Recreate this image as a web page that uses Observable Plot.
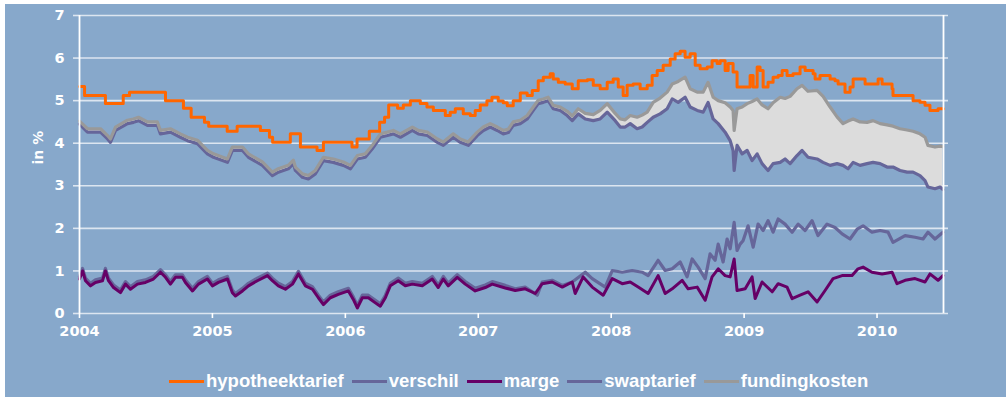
<!DOCTYPE html>
<html><head><meta charset="utf-8">
<script src="https://cdn.jsdelivr.net/npm/d3@7"></script>
<script src="https://cdn.jsdelivr.net/npm/@observablehq/plot@0.6"></script>
<style>
html,body{margin:0;padding:0;background:#fff;width:1006px;height:401px;overflow:hidden;}
#panel{position:absolute;left:5px;top:4px;width:1001px;height:393px;background:#87A8CB;}
#chart{position:absolute;left:0;top:0;}
#legend{position:absolute;top:370px;left:169px;display:flex;align-items:center;font-family:"Liberation Sans",Arial,sans-serif;font-weight:bold;font-size:18.5px;color:#fff;white-space:nowrap;}
.item{display:flex;align-items:center;margin-right:8px;}
.sw{width:35px;height:3px;margin-right:2px;}
</style></head>
<body>
<div id="panel"></div>
<div id="chart"></div>
<div id="legend"></div>
<script>
// ---------- data (decimal years, values in %) ----------
const seriesNames = ["hypotheektarief","verschil","marge","swaptarief","fundingkosten"];
const seriesColors = ["#FF6600","#66669A","#660066","#66669A","#999999"];
const xTicks = [2004,2005,2006,2007,2008,2009,2010];
const yTicks = [0,1,2,3,4,5,6,7];

const hypYears = [2004.000,2004.038,2004.195,2004.329,2004.376,2004.647,2004.782,2004.840,2004.940,2004.972,
 2005.111,2005.186,2005.361,2005.429,2005.453,2005.586,2005.662,2005.787,2005.835,2006.050,
 2006.088,2006.180,2006.258,2006.295,2006.326,2006.393,2006.436,2006.489,2006.564,2006.614,
 2006.662,2006.752,2006.789,2006.827,2006.887,2006.940,2006.977,2007.015,2007.065,2007.103,
 2007.150,2007.188,2007.218,2007.263,2007.316,2007.368,2007.406,2007.451,2007.489,2007.541,
 2007.564,2007.602,2007.654,2007.707,2007.752,2007.820,2007.865,2007.917,2007.970,2008.015,
 2008.053,2008.090,2008.120,2008.165,2008.218,2008.271,2008.308,2008.346,2008.391,2008.444,
 2008.481,2008.519,2008.556,2008.594,2008.632,2008.669,2008.722,2008.759,2008.797,2008.820,
 2008.857,2008.880,2008.917,2008.947,2009.045,2009.068,2009.098,2009.120,2009.143,2009.180,
 2009.218,2009.256,2009.286,2009.323,2009.368,2009.421,2009.459,2009.519,2009.534,2009.571,
 2009.647,2009.684,2009.707,2009.759,2009.797,2009.820,2009.910,2010.008,2010.038,2010.113,
 2010.120,2010.271,2010.323,2010.361,2010.398,2010.459,2010.500];
const hypotheektarief = [5.33,5.12,4.93,5.12,5.20,5.00,4.82,4.61,4.49,4.40,
 4.28,4.40,4.30,4.14,4.02,4.22,3.91,3.83,4.02,3.91,
 4.10,4.28,4.49,4.61,4.90,4.82,4.90,5.00,4.93,4.85,
 4.77,4.65,4.73,4.81,4.69,4.65,4.77,4.90,5.00,5.08,
 4.99,4.95,4.88,5.00,5.18,5.12,5.24,5.47,5.55,5.63,
 5.51,5.43,5.39,5.28,5.47,5.49,5.36,5.28,5.43,5.51,
 5.32,5.12,5.36,5.39,5.28,5.36,5.59,5.71,5.83,5.98,
 6.10,6.16,6.02,6.10,5.83,5.75,5.79,5.94,5.87,5.94,
 5.71,5.87,5.67,5.32,5.59,5.32,5.79,5.71,5.32,5.43,
 5.55,5.59,5.71,5.59,5.63,5.79,5.71,5.63,5.51,5.59,
 5.51,5.47,5.39,5.20,5.32,5.51,5.39,5.51,5.39,5.28,
 5.12,5.00,4.96,4.89,4.77,4.81,4.81];

const rateYears = [2004.000,2004.060,2004.158,2004.211,2004.233,2004.271,2004.361,2004.406,2004.444,2004.511,
 2004.586,2004.609,2004.684,2004.759,2004.812,2004.887,2004.962,2005.008,2005.113,2005.150,
 2005.226,2005.271,2005.376,2005.451,2005.496,2005.571,2005.609,2005.624,2005.677,2005.722,
 2005.774,2005.835,2005.910,2005.985,2006.038,2006.090,2006.150,2006.203,2006.263,2006.316,
 2006.361,2006.414,2006.504,2006.549,2006.617,2006.692,2006.737,2006.812,2006.865,2006.925,
 2006.992,2007.038,2007.090,2007.143,2007.188,2007.226,2007.263,2007.316,2007.368,2007.414,
 2007.451,2007.489,2007.526,2007.564,2007.617,2007.669,2007.707,2007.752,2007.805,2007.865,
 2007.917,2007.970,2008.030,2008.068,2008.105,2008.143,2008.195,2008.233,2008.271,2008.316,
 2008.368,2008.421,2008.459,2008.504,2008.556,2008.594,2008.647,2008.692,2008.729,2008.767,
 2008.805,2008.857,2008.895,2008.917,2008.925,2008.947,2008.985,2009.023,2009.060,2009.098,
 2009.135,2009.180,2009.218,2009.271,2009.308,2009.346,2009.398,2009.436,2009.481,2009.549,
 2009.594,2009.647,2009.699,2009.744,2009.782,2009.820,2009.872,2009.925,2009.970,2010.023,
 2010.075,2010.120,2010.173,2010.226,2010.271,2010.323,2010.361,2010.383,2010.436,2010.474,
 2010.496];
const swaptarief = [4.45,4.26,4.26,4.10,4.02,4.30,4.46,4.49,4.53,4.42,
 4.42,4.22,4.26,4.14,4.06,3.99,3.75,3.67,3.55,3.83,
 3.83,3.67,3.48,3.24,3.32,3.40,3.52,3.36,3.20,3.16,
 3.28,3.59,3.55,3.48,3.40,3.63,3.67,3.87,4.14,4.18,
 4.22,4.14,4.30,4.22,4.18,4.02,3.95,4.14,4.02,3.95,
 4.18,4.30,4.38,4.30,4.22,4.25,4.42,4.46,4.57,4.77,
 4.93,4.96,5.00,4.81,4.77,4.65,4.53,4.69,4.57,4.53,
 4.57,4.73,4.53,4.38,4.38,4.46,4.34,4.38,4.49,4.61,
 4.69,4.81,5.04,4.96,5.08,4.85,4.77,4.73,4.96,4.57,
 4.46,4.26,4.06,3.83,3.36,3.95,3.75,3.83,3.59,3.75,
 3.52,3.36,3.52,3.55,3.63,3.52,3.71,3.83,3.67,3.63,
 3.55,3.48,3.52,3.48,3.40,3.55,3.48,3.52,3.55,3.52,
 3.44,3.44,3.36,3.32,3.32,3.24,3.12,2.97,2.93,2.97,
 2.91];
const fundingkosten = [4.52,4.34,4.34,4.18,4.10,4.38,4.54,4.57,4.61,4.50,
 4.50,4.30,4.34,4.22,4.14,4.07,3.83,3.75,3.63,3.91,
 3.91,3.75,3.56,3.32,3.40,3.48,3.60,3.44,3.28,3.24,
 3.36,3.67,3.63,3.56,3.48,3.71,3.75,3.95,4.22,4.26,
 4.30,4.22,4.38,4.30,4.26,4.10,4.03,4.22,4.10,4.03,
 4.26,4.38,4.46,4.38,4.30,4.33,4.50,4.54,4.65,4.85,
 5.01,5.04,5.08,4.89,4.85,4.75,4.64,4.81,4.70,4.67,
 4.77,4.93,4.70,4.57,4.55,4.65,4.61,4.66,4.73,4.96,
 5.06,5.20,5.39,5.45,5.55,5.28,5.20,5.20,5.43,5.08,
 5.00,4.95,4.85,4.77,4.30,4.81,4.85,4.93,4.98,5.04,
 4.90,4.81,4.95,5.08,5.05,5.10,5.28,5.36,5.22,5.24,
 5.10,4.85,4.62,4.46,4.52,4.57,4.50,4.49,4.53,4.46,
 4.43,4.40,4.34,4.31,4.28,4.22,4.14,3.95,3.91,3.93,
 3.92];

const margeYears = [2004.000,2004.023,2004.045,2004.083,2004.120,2004.173,2004.195,2004.218,2004.256,2004.308,
 2004.346,2004.383,2004.436,2004.496,2004.556,2004.609,2004.647,2004.684,2004.722,2004.774,
 2004.797,2004.850,2004.895,2004.962,2005.000,2005.045,2005.113,2005.150,2005.173,2005.226,
 2005.271,2005.338,2005.414,2005.451,2005.496,2005.549,2005.602,2005.647,2005.699,2005.752,
 2005.797,2005.835,2005.887,2005.947,2006.023,2006.060,2006.090,2006.128,2006.173,2006.226,
 2006.263,2006.301,2006.338,2006.398,2006.451,2006.504,2006.579,2006.654,2006.699,2006.737,
 2006.774,2006.842,2006.902,2006.977,2007.053,2007.105,2007.203,2007.278,2007.353,2007.429,
 2007.481,2007.556,2007.632,2007.707,2007.729,2007.789,2007.857,2007.940,2008.008,2008.083,
 2008.143,2008.203,2008.278,2008.353,2008.406,2008.459,2008.534,2008.579,2008.647,2008.707,
 2008.759,2008.805,2008.857,2008.895,2008.925,2008.947,2009.008,2009.060,2009.083,2009.135,
 2009.211,2009.256,2009.323,2009.361,2009.421,2009.481,2009.549,2009.609,2009.669,2009.737,
 2009.812,2009.857,2009.895,2009.962,2010.038,2010.113,2010.150,2010.211,2010.286,2010.361,
 2010.398,2010.459,2010.496];
const marge = [0.81,1.00,0.77,0.65,0.73,0.77,1.00,0.77,0.61,0.49,
 0.69,0.57,0.69,0.73,0.81,0.97,0.85,0.69,0.85,0.85,
 0.73,0.53,0.69,0.81,0.65,0.73,0.81,0.49,0.41,0.53,
 0.65,0.77,0.89,0.77,0.65,0.57,0.69,0.93,0.65,0.57,
 0.37,0.21,0.37,0.45,0.53,0.33,0.13,0.37,0.37,0.25,
 0.17,0.37,0.65,0.77,0.65,0.69,0.65,0.81,0.61,0.81,
 0.65,0.85,0.69,0.53,0.61,0.69,0.60,0.54,0.58,0.47,
 0.70,0.74,0.62,0.74,0.47,0.86,0.62,0.43,0.82,0.70,
 0.74,0.62,0.47,0.89,0.47,0.58,0.78,0.58,0.62,0.31,
 0.86,1.05,0.89,0.86,1.28,0.54,0.58,0.86,0.35,0.74,
 0.51,0.70,0.62,0.35,0.43,0.51,0.27,0.54,0.82,0.89,
 0.89,1.05,1.09,0.97,0.93,0.97,0.70,0.78,0.82,0.74,
 0.93,0.78,0.89];

const verschilYears = [2004.000,2004.023,2004.045,2004.083,2004.120,2004.173,2004.195,2004.218,2004.256,2004.308,
 2004.346,2004.383,2004.436,2004.496,2004.556,2004.609,2004.647,2004.684,2004.722,2004.774,
 2004.797,2004.850,2004.895,2004.962,2005.000,2005.045,2005.113,2005.150,2005.173,2005.226,
 2005.271,2005.338,2005.414,2005.451,2005.496,2005.549,2005.602,2005.647,2005.699,2005.752,
 2005.797,2005.835,2005.887,2005.947,2006.023,2006.060,2006.090,2006.128,2006.173,2006.226,
 2006.263,2006.301,2006.338,2006.398,2006.451,2006.504,2006.579,2006.654,2006.699,2006.737,
 2006.774,2006.842,2006.902,2006.977,2007.053,2007.105,2007.203,2007.278,2007.353,2007.444,
 2007.481,2007.556,2007.632,2007.707,2007.805,2007.857,2007.955,2008.008,2008.083,2008.158,
 2008.233,2008.278,2008.353,2008.406,2008.459,2008.519,2008.571,2008.609,2008.654,2008.707,
 2008.744,2008.782,2008.805,2008.842,2008.872,2008.895,2008.925,2008.947,2008.970,2008.992,
 2009.030,2009.068,2009.105,2009.143,2009.180,2009.218,2009.256,2009.308,2009.361,2009.406,
 2009.459,2009.511,2009.556,2009.624,2009.684,2009.737,2009.797,2009.850,2009.895,2009.962,
 2010.023,2010.083,2010.120,2010.211,2010.286,2010.346,2010.383,2010.436,2010.496];
const verschil = [0.87,1.06,0.83,0.71,0.79,0.83,1.06,0.83,0.67,0.55,
 0.75,0.63,0.75,0.79,0.87,1.03,0.91,0.75,0.91,0.91,
 0.79,0.59,0.75,0.87,0.71,0.79,0.87,0.55,0.47,0.59,
 0.71,0.83,0.95,0.83,0.71,0.63,0.75,0.99,0.71,0.63,
 0.43,0.27,0.43,0.51,0.59,0.39,0.19,0.43,0.43,0.31,
 0.23,0.43,0.71,0.83,0.71,0.75,0.71,0.87,0.67,0.87,
 0.71,0.91,0.75,0.59,0.67,0.75,0.66,0.58,0.62,0.43,
 0.74,0.78,0.66,0.74,0.97,0.82,0.62,1.01,0.97,1.01,
 0.97,0.89,1.25,1.01,1.05,1.21,0.86,1.28,1.09,0.82,
 1.40,1.25,1.63,1.21,1.75,1.52,2.14,1.48,1.63,1.71,
 2.06,1.56,2.10,1.95,2.18,1.91,2.22,2.10,1.91,2.10,
 1.95,2.18,1.83,2.10,2.02,1.87,1.75,1.98,2.06,1.91,
 1.95,1.91,1.67,1.83,1.79,1.75,1.91,1.75,1.91];

// ---------- tables built from the arrays ----------
const hyp = hypYears.map((x,i)=>({x, y: hypotheektarief[i]}));
const rates = rateYears.map((x,i)=>({x, swap: swaptarief[i], fund: fundingkosten[i]}));
const mrg = margeYears.map((x,i)=>({x, y: marge[i]}));
const vrs = verschilYears.map((x,i)=>({x, y: verschil[i]}));

const grid = "#DCE5F0";
const chart = Plot.plot({
  width: 1006, height: 350,
  marginLeft: 79, marginRight: 58, marginTop: 15, marginBottom: 37,
  style: {background: "transparent", color: "#fff", fontFamily: "DejaVu Sans, sans-serif", fontSize: "14.5px", fontWeight: "bold", overflow: "visible"},
  x: {domain: [2004, 2010.5376]},
  y: {domain: [0, 7]},
  marks: [
    Plot.ruleY(yTicks, {stroke: grid, strokeWidth: 1.6}),
    Plot.axisY({ticks: yTicks, tickSize: 6, tickPadding: 9, stroke: grid, strokeWidth: 1.6, label: null, tickFormat: d => String(d)}),
    Plot.axisX({ticks: xTicks, tickSize: 5, tickPadding: 7, stroke: "#fff", strokeWidth: 1.6, label: null, tickFormat: d => String(d)}),
    Plot.text(["in %"], {frameAnchor: "left", dx: -41, rotate: -90, fill: "#fff", fontSize: 14, fontWeight: "bold"}),
    Plot.areaY(rates, {x: "x", y1: "swap", y2: "fund", fill: "#DCDCDC", curve: "linear"}),
    Plot.lineY(rates, {x: "x", y: "swap", stroke: seriesColors[3], strokeWidth: 3.2, strokeLinejoin: "round"}),
    Plot.lineY(rates, {x: "x", y: "fund", stroke: seriesColors[4], strokeWidth: 3.2, strokeLinejoin: "round"}),
    Plot.lineY(vrs, {x: "x", y: "y", stroke: seriesColors[1], strokeWidth: 3.2, strokeLinejoin: "round"}),
    Plot.lineY(mrg, {x: "x", y: "y", stroke: seriesColors[2], strokeWidth: 3, strokeLinejoin: "round"}),
    Plot.lineY(hyp, {x: "x", y: "y", stroke: seriesColors[0], strokeWidth: 3, curve: "step-after"}),
    Plot.ruleX([2004, 2010.5], {stroke: "#fff", strokeWidth: 1.8})
  ]
});
document.getElementById("chart").appendChild(chart);

const legend = document.getElementById("legend");
seriesNames.forEach((name, i) => {
  const it = document.createElement("div"); it.className = "item";
  const sw = document.createElement("div"); sw.className = "sw"; sw.style.background = seriesColors[i];
  const tx = document.createElement("span"); tx.textContent = name;
  it.appendChild(sw); it.appendChild(tx); legend.appendChild(it);
});
</script>
</body></html>
